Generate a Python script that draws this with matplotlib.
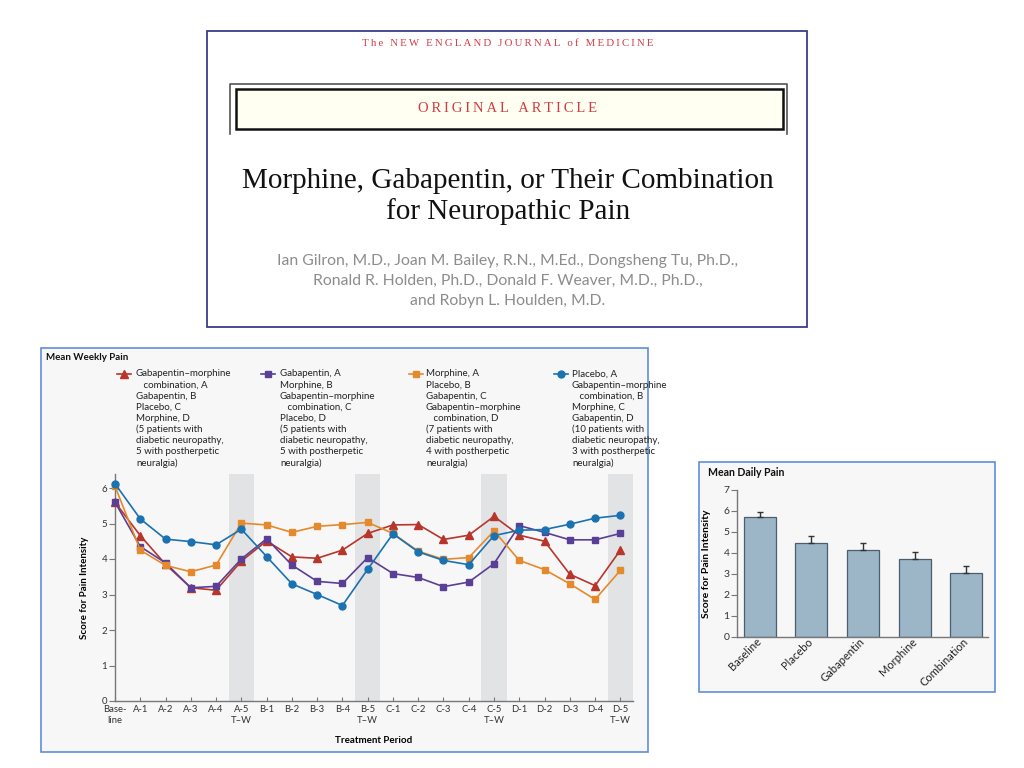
import matplotlib
matplotlib.use("Agg")
import matplotlib.pyplot as plt
from matplotlib.patches import Rectangle
from matplotlib.lines import Line2D
import matplotlib.transforms as mtransforms

# ---------------- data ----------------
periods = ['Base-\nline', 'A-1', 'A-2', 'A-3', 'A-4', 'A-5\nT\u2013W',
           'B-1', 'B-2', 'B-3', 'B-4', 'B-5\nT\u2013W',
           'C-1', 'C-2', 'C-3', 'C-4', 'C-5\nT\u2013W',
           'D-1', 'D-2', 'D-3', 'D-4', 'D-5\nT\u2013W']
washout_idx = [5, 10, 15, 20]

combination_first = [5.60, 4.66, 3.85, 3.19, 3.12, 3.94, 4.51, 4.06, 4.02, 4.25, 4.72,
                     4.96, 4.97, 4.55, 4.67, 5.20, 4.67, 4.50, 3.57, 3.25, 4.25]
gabapentin_first = [5.60, 4.35, 3.89, 3.19, 3.23, 4.00, 4.57, 3.83, 3.37, 3.31, 4.04,
                    3.59, 3.48, 3.22, 3.35, 3.87, 4.94, 4.75, 4.54, 4.54, 4.72]
morphine_first = [6.05, 4.25, 3.82, 3.64, 3.83, 5.01, 4.96, 4.75, 4.92, 4.97, 5.03,
                  4.72, 4.22, 3.99, 4.04, 4.79, 3.96, 3.70, 3.30, 2.86, 3.68]
placebo_first = [6.12, 5.13, 4.56, 4.49, 4.40, 4.84, 4.07, 3.30, 3.00, 2.69, 3.71,
                 4.71, 4.20, 3.96, 3.84, 4.66, 4.81, 4.83, 4.98, 5.15, 5.23]

legend_texts = [
    ['Gabapentin\u2013morphine', '   combination, A', 'Gabapentin, B', 'Placebo, C', 'Morphine, D',
     '(5 patients with', 'diabetic neuropathy,', '5 with postherpetic', 'neuralgia)'],
    ['Gabapentin, A', 'Morphine, B', 'Gabapentin\u2013morphine', '   combination, C', 'Placebo, D',
     '(5 patients with', 'diabetic neuropathy,', '5 with postherpetic', 'neuralgia)'],
    ['Morphine, A', 'Placebo, B', 'Gabapentin, C', 'Gabapentin\u2013morphine', '   combination, D',
     '(7 patients with', 'diabetic neuropathy,', '4 with postherpetic', 'neuralgia)'],
    ['Placebo, A', 'Gabapentin\u2013morphine', '   combination, B', 'Morphine, C', 'Gabapentin, D',
     '(10 patients with', 'diabetic neuropathy,', '3 with postherpetic', 'neuralgia)'],
]

bar_labels = ['Baseline', 'Placebo', 'Gabapentin', 'Morphine', 'Combination']
bar_means = [5.72, 4.49, 4.14, 3.71, 3.05]
bar_errs = [0.22, 0.32, 0.34, 0.33, 0.34]

journal = 'The NEW ENGLAND JOURNAL of MEDICINE'
section = 'ORIGINAL ARTICLE'
title_lines = ['Morphine, Gabapentin, or Their Combination', 'for Neuropathic Pain']
authors = ['Ian Gilron, M.D., Joan M. Bailey, R.N., M.Ed., Dongsheng Tu, Ph.D.,',
           'Ronald R. Holden, Ph.D., Donald F. Weaver, M.D., Ph.D.,',
           'and Robyn L. Houlden, M.D.']

# ---------------- styles ----------------
RED = '#b8352c'
PURPLE = '#5a3f96'
ORANGE = '#e58a2c'
BLUE = '#1b72b0'
series = [
    (combination_first, RED, '^', 5.5),
    (gabapentin_first, PURPLE, 's', 5.0),
    (morphine_first, ORANGE, 's', 5.0),
    (placebo_first, BLUE, 'o', 5.0),
]
SANS = ['Lato', 'DejaVu Sans']
SERIF = ['Liberation Serif', 'DejaVu Serif']
PANEL_BG = '#f7f7f7'
PANEL_EDGE = '#5e8fdc'


def tracked(s):
    return '\u2009'.join(s)


W, H = 1024, 768
fig = plt.figure(figsize=(W / 100, H / 100), dpi=100)
fig.patch.set_facecolor('white')


def rect(x0, y0, x1, y1):
    return [x0 / W, 1 - y1 / H, (x1 - x0) / W, (y1 - y0) / H]


# overlay in pixel coords
ov = fig.add_axes([0, 0, 1, 1])
ov.set_xlim(0, W)
ov.set_ylim(H, 0)
ov.axis('off')

# ---------- top panel ----------
ov.add_patch(Rectangle((207, 31), 600, 296, facecolor='white', edgecolor='#3a3d8c', lw=1.3))
ov.text(508, 44, tracked(journal), family=SERIF, fontsize=7.8,
        color='#d43a44', ha='center', va='center')
ov.plot([230, 230, 787, 787], [134, 83.5, 83.5, 134], color='#555555', lw=1.2)
ov.add_patch(Rectangle((236, 89), 547, 40, facecolor='#fffff2', edgecolor='#111111', lw=1.8))
ov.text(508, 109, tracked(section), family=SERIF, fontsize=10.5, color='#d43a44',
        ha='center', va='center')
for i, line in enumerate(title_lines):
    ov.text(508, 181 + i * 31, line, family=SERIF, fontsize=21,
            color='#111111', ha='center', va='center')
for i, line in enumerate(authors):
    ov.text(508, 261 + i * 20, line, family=SANS, fontsize=11.3, color='#8c8c8c',
            ha='center', va='center')

# ---------- main panel ----------
ov.add_patch(Rectangle((41, 348), 607, 404, facecolor=PANEL_BG, edgecolor=PANEL_EDGE, lw=1.2))
ov.text(46, 358, 'Mean Weekly Pain', family=SANS, fontsize=7, fontweight='bold',
        color='#111111', ha='left', va='center')

leg_handle_x = [(117, 131), (261, 275), (409, 423), (554, 568)]
leg_text_x = [136, 280, 426, 572]
for (data, color, marker, ms), (hx0, hx1), tx, lines in zip(series, leg_handle_x, leg_text_x, legend_texts):
    ov.add_line(Line2D([hx0, hx1], [374, 374], color=color, lw=1.2))
    ov.plot([(hx0 + hx1) / 2], [374], marker=marker, color=color, ms=ms, mec=color)
    for j, ln in enumerate(lines):
        ov.text(tx, 374 + j * 11.1, ln, family=SANS, fontsize=7, color='#222222',
                ha='left', va='center')

ax = fig.add_axes(rect(115, 473.8, 633, 701))
ax.set_facecolor('none')
x = list(range(len(periods)))
for i in washout_idx:
    ax.axvspan(i - 0.5, i + 0.5, color='#e2e3e5', lw=0, zorder=0)
for data, color, marker, ms in series:
    ax.plot(x, data, color=color, marker=marker, ms=ms, mec=color, lw=1.2, zorder=3,
            clip_on=False)
ax.set_xlim(0, 20.5)
ax.set_ylim(0, 6.4)
ax.set_xticks(x)
ax.set_xticklabels(periods, family=SANS, fontsize=6.8, color='#333333', linespacing=1.3)
ax.set_yticks(range(0, 7))
ax.set_yticklabels([str(v) for v in range(0, 7)], family=SANS, fontsize=7, color='#333333')
for s in ['top', 'right']:
    ax.spines[s].set_visible(False)
for s in ['left', 'bottom']:
    ax.spines[s].set_color('#777777')
    ax.spines[s].set_linewidth(1.0)
ax.tick_params(axis='x', direction='in', length=3, color='#777777', pad=3)
ax.tick_params(axis='y', direction='out', length=4, color='#777777', pad=1.5)
ax.set_xlabel('Treatment Period', family=SANS, fontsize=7, fontweight='bold', labelpad=8)
ax.set_ylabel('Score for Pain Intensity', family=SANS, fontsize=7, fontweight='bold', labelpad=9)

# ---------- bar panel ----------
ov.add_patch(Rectangle((699, 462), 296, 230, facecolor=PANEL_BG, edgecolor=PANEL_EDGE, lw=1.2))
ov.text(708, 472, 'Mean Daily Pain', family=SANS, fontsize=7.6, fontweight='bold',
        color='#111111', ha='left', va='center')

bx = fig.add_axes(rect(737, 489.7, 988, 637))
bx.set_facecolor('none')
bpos = list(range(len(bar_labels)))
bx.bar(bpos, bar_means, width=0.62, color='#9cb6c8', edgecolor='#4a5e70', lw=0.9,
       yerr=[[0] * len(bar_errs), bar_errs], capsize=2.5,
       error_kw=dict(ecolor='#333333', elinewidth=1.0, capthick=1.0), zorder=2)
bx.set_xlim(-0.44, 4.42)
bx.set_ylim(0, 7)
bx.set_yticks(range(0, 8))
bx.set_yticklabels([str(v) for v in range(0, 8)], family=SANS, fontsize=7.5, color='#333333')
bx.set_xticks(bpos)
bx.set_xticklabels(bar_labels, family=SANS, fontsize=8, color='#222222', rotation=45,
                   ha='right', va='center', rotation_mode='anchor')
offset = mtransforms.ScaledTranslation(5 / 100, -2 / 100, fig.dpi_scale_trans)
for lab in bx.get_xticklabels():
    lab.set_transform(lab.get_transform() + offset)
for s in ['top', 'right']:
    bx.spines[s].set_visible(False)
for s in ['left', 'bottom']:
    bx.spines[s].set_color('#777777')
    bx.spines[s].set_linewidth(1.0)
bx.tick_params(axis='x', length=0, pad=2)
bx.tick_params(axis='y', direction='out', length=4, color='#777777', pad=1.5)
bx.set_ylabel('Score for Pain Intensity', family=SANS, fontsize=7.5, fontweight='bold', labelpad=9)

fig.savefig('out.png', dpi=100)
